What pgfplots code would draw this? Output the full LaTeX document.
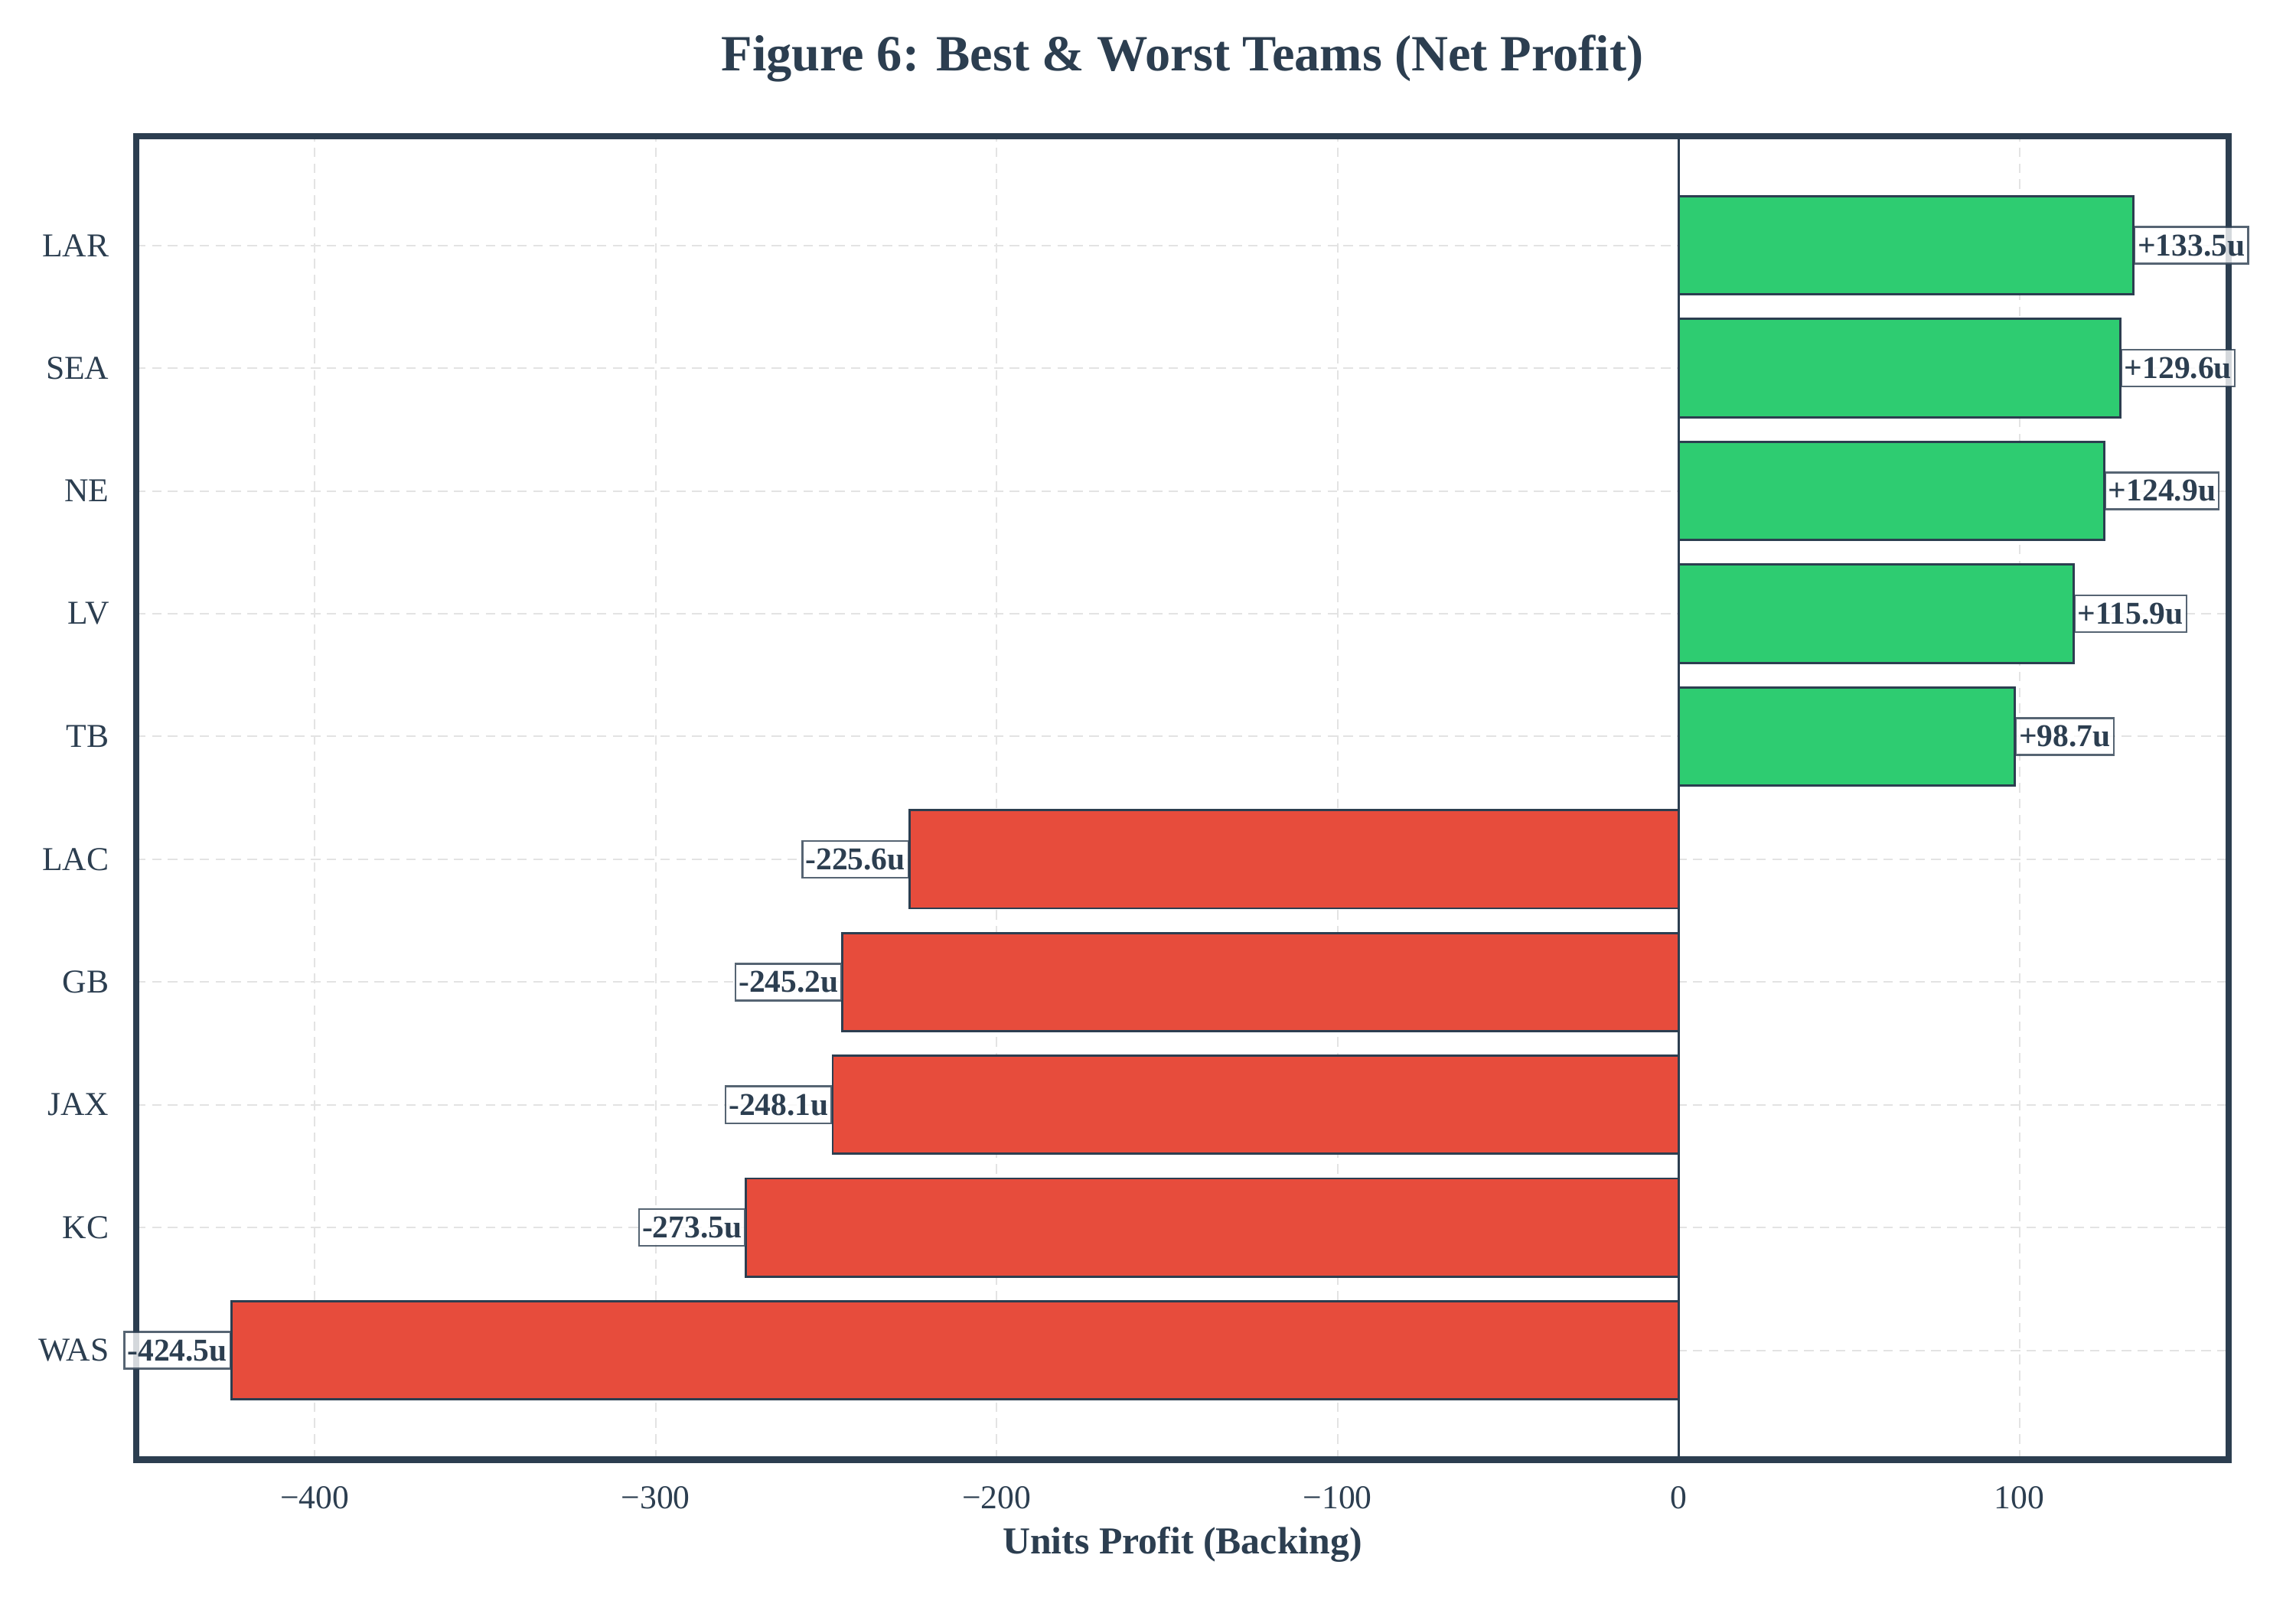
\documentclass[border=0pt]{standalone}
\usepackage{pgfplots}
\pgfplotsset{compat=1.18}
\usepackage{fontspec}
\setmainfont{Liberation Serif}
\definecolor{dark}{HTML}{2C3E50}
\definecolor{goodg}{HTML}{2ECC71}
\definecolor{badr}{HTML}{E74C3C}
\begin{document}
\begin{tikzpicture}
\path[use as bounding box] (-0.593in,-0.642in) rectangle (9.407in,6.358in);
\begin{axis}[
  at={(0,0)}, anchor=south west,
  scale only axis,
  width=9.114in, height=5.765in,
  xmin=-452.4, xmax=161.4,
  ymin=-0.89, ymax=9.89,
  xbar, bar width=0.8, bar shift=0,
  xtick={-400,-300,-200,-100,0,100},
  xticklabels={−400,−300,−200,−100,0,100},
  ytick={0,1,2,3,4,5,6,7,8,9},
  yticklabels={WAS,KC,JAX,GB,LAC,TB,LV,NE,SEA,LAR},
  major tick length=0pt,
  tick label style={font=\fontsize{10.5}{12}\selectfont, text=dark},
  xticklabel style={anchor=center, yshift=-12pt},
  yticklabel style={xshift=-5pt},
  grid=major,
  major grid style={dash pattern=on 3pt off 2pt, color=gray!22, line width=0.5pt},
  axis line style={dark, line width=2pt},
  xlabel={\textbf{Units Profit (Backing)}},
  xlabel style={font=\fontsize{12}{14}\selectfont, text=dark, at={(axis description cs:0.5,0)}, anchor=center, yshift=-0.37in},
  axis on top=false,
  clip=false,
  nodes near coords,
  point meta=explicit symbolic,
  every node near coord/.append style={font=\bfseries\fontsize{10}{12}\selectfont, text=dark, fill=white, fill opacity=0.8, text opacity=1, draw=dark, draw opacity=0.8, line width=0.6pt, inner xsep=1pt, inner ysep=2.4pt},
]
\addplot[fill=goodg, draw=dark, line width=0.7pt,
  every node near coord/.append style={anchor=west, xshift=0pt}]
  table[x=v, y=y, meta=lab] {
v y lab
98.7 5 +98.7u
115.9 6 +115.9u
124.9 7 +124.9u
129.6 8 +129.6u
133.5 9 +133.5u
};
\addplot[fill=badr, draw=dark, line width=0.7pt,
  every node near coord/.append style={anchor=east, xshift=0pt}]
  table[x=v, y=y, meta=lab] {
v y lab
-424.5 0 -424.5u
-273.5 1 -273.5u
-248.1 2 -248.1u
-245.2 3 -245.2u
-225.6 4 -225.6u
};
\draw[dark, line width=0.8pt] (axis cs:0,-0.89) -- (axis cs:0,9.89);
\end{axis}
\node[font=\bfseries\fontsize{16}{19}\selectfont, text=dark] at (4.557in,6.103in) {Figure 6: Best \& Worst Teams (Net Profit)};
\end{tikzpicture}
\end{document}
